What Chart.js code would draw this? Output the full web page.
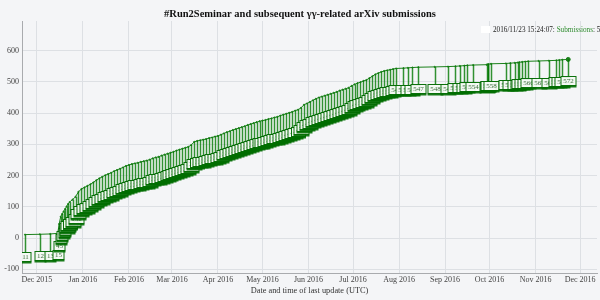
<!DOCTYPE html>
<html>
<head>
<meta charset="utf-8">
<script src="https://cdn.jsdelivr.net/npm/chart.js@4/dist/chart.umd.min.js"></script>
<style>
    html, body { margin: 0; padding: 0; overflow: hidden; background: #f4f5f7; }
    #wrap      { position: relative; width: 600px; height: 300px; }
    #legend    { position: absolute; left: 481px; top: 26px; white-space: nowrap; font: 7.2px "Liberation Serif", serif; color: #222; }
    #legend .swatch { display: inline-block; width: 9px; height: 7px; background: #fff; vertical-align: -1px; margin-right: 3px; }
    #legend .green  { color: #2e8b2e; }
</style>
</head>
<body>
<div id="wrap">
    <canvas id="ChartCanvas"></canvas>
    <div id="legend"><span class="swatch"></span>2016/11/23 15:24:07: <span class="green">Submissions</span>: 572</div>
</div>
<script>
// Date of last update of each tracked submission and the running total at that moment
const submissionDates =
[
    '2015-11-23', '2015-12-03', '2015-12-10', '2015-12-15', '2015-12-16', '2015-12-17', '2015-12-18', '2015-12-19',
    '2015-12-20', '2015-12-21', '2015-12-22', '2015-12-23', '2015-12-25', '2015-12-27', '2015-12-29', '2015-12-31',
    '2016-01-02', '2016-01-04', '2016-01-06', '2016-01-08', '2016-01-10', '2016-01-12', '2016-01-14', '2016-01-16',
    '2016-01-18', '2016-01-20', '2016-01-22', '2016-01-24', '2016-01-26', '2016-01-28', '2016-01-30', '2016-02-01',
    '2016-02-03', '2016-02-05', '2016-02-07', '2016-02-09', '2016-02-11', '2016-02-13', '2016-02-15', '2016-02-17',
    '2016-02-19', '2016-02-21', '2016-02-23', '2016-02-25', '2016-02-27', '2016-02-29', '2016-03-02', '2016-03-04',
    '2016-03-06', '2016-03-08', '2016-03-10', '2016-03-12', '2016-03-14', '2016-03-16', '2016-03-18', '2016-03-20',
    '2016-03-22', '2016-03-24', '2016-03-26', '2016-03-28', '2016-03-30', '2016-04-01', '2016-04-03', '2016-04-05',
    '2016-04-07', '2016-04-09', '2016-04-11', '2016-04-13', '2016-04-15', '2016-04-17', '2016-04-19', '2016-04-21',
    '2016-04-23', '2016-04-25', '2016-04-27', '2016-04-29', '2016-05-01', '2016-05-03', '2016-05-05', '2016-05-07',
    '2016-05-09', '2016-05-11', '2016-05-13', '2016-05-15', '2016-05-17', '2016-05-19', '2016-05-21', '2016-05-23',
    '2016-05-25', '2016-05-27', '2016-05-29', '2016-05-31', '2016-06-02', '2016-06-04', '2016-06-06', '2016-06-08',
    '2016-06-10', '2016-06-12', '2016-06-14', '2016-06-16', '2016-06-18', '2016-06-20', '2016-06-22', '2016-06-24',
    '2016-06-26', '2016-06-28', '2016-06-30', '2016-07-02', '2016-07-04', '2016-07-06', '2016-07-08', '2016-07-10',
    '2016-07-12', '2016-07-14', '2016-07-16', '2016-07-18', '2016-07-20', '2016-07-22', '2016-07-24', '2016-07-26',
    '2016-07-28', '2016-07-30', '2016-08-04', '2016-08-07', '2016-08-10', '2016-08-14', '2016-08-25', '2016-09-03',
    '2016-09-08', '2016-09-11', '2016-09-14', '2016-09-16', '2016-09-20', '2016-09-29', '2016-09-30', '2016-09-30',
    '2016-10-02', '2016-10-12', '2016-10-15', '2016-10-18', '2016-10-20', '2016-10-21', '2016-10-23', '2016-10-25',
    '2016-10-27', '2016-11-03', '2016-11-10', '2016-11-15', '2016-11-17', '2016-11-19', '2016-11-23'
];

const submissionCounts =
[
     11,  12,  13,  15,  45,  68,  77,  85,  93, 101, 109, 115, 123, 132, 148, 157,
    162, 167, 172, 178, 185, 191, 196, 201, 205, 209, 214, 218, 222, 226, 231, 234,
    237, 239, 241, 244, 246, 248, 251, 255, 258, 260, 264, 267, 270, 273, 276, 280,
    283, 286, 289, 292, 298, 308, 311, 313, 315, 317, 320, 322, 325, 327, 331, 335,
    339, 342, 346, 349, 352, 355, 358, 362, 365, 368, 371, 374, 376, 378, 381, 383,
    386, 388, 392, 395, 398, 401, 404, 408, 411, 417, 427, 431, 436, 441, 446, 450,
    453, 456, 459, 462, 465, 468, 472, 475, 478, 481, 487, 492, 496, 499, 503, 506,
    512, 518, 524, 528, 532, 535, 537, 539, 541, 543, 544, 545, 546, 547, 548, 549,
    550, 551, 552, 553, 554, 555, 556, 557, 558, 559, 560, 561, 562, 563, 564, 565,
    566, 567, 568, 569, 570, 571, 572
];

// Axis ticks
const xTickDates  = ['2015-12-01', '2016-01-01', '2016-02-01', '2016-03-01', '2016-04-01', '2016-05-01', '2016-06-01',
                     '2016-07-01', '2016-08-01', '2016-09-01', '2016-10-01', '2016-11-01', '2016-12-01'];
const xTickLabels = ['Dec 2015', 'Jan 2016', 'Feb 2016', 'Mar 2016', 'Apr 2016', 'May 2016', 'Jun 2016',
                     'Jul 2016', 'Aug 2016', 'Sep 2016', 'Oct 2016', 'Nov 2016', 'Dec 2016'];
const yTicks      = [-100, 0, 100, 200, 300, 400, 500, 600];

Initialize();

function Initialize()
{
    const DAY    = 86400000;
    const toDays = s => Date.parse(s) / DAY;   // the x axis is linear, counted in days

    const xTickDays = xTickDates.map(toDays);
    const serif     = '"Liberation Serif", "Times New Roman", serif';
    const last      = submissionCounts.length - 1;

    // Draws the little arrow + numbered box hanging under every point
    const countBoxes =
    {
        id: 'countBoxes',
        afterDatasetsDraw(chart)
        {
            const ctx  = chart.ctx;
            const area = chart.chartArea;
            const meta = chart.getDatasetMeta(0);

            ctx.save();
            ctx.beginPath();
            ctx.rect(area.left, area.top, area.right - area.left, area.bottom - area.top);
            ctx.clip();
            ctx.font         = '7px ' + serif;
            ctx.textAlign    = 'center';
            ctx.textBaseline = 'middle';

            meta.data.forEach((pt, i) =>
            {
                const x     = Math.round(pt.x) + 0.5;
                const y     = pt.y;
                const label = String(submissionCounts[i]);
                const w     = Math.round(ctx.measureText(label).width) + 4;
                const h     = 9;
                const top   = Math.round(y + 17) + 0.5;

                // arrow
                ctx.strokeStyle = 'rgba(0, 120, 0, 0.8)';
                ctx.lineWidth   = 1.5;
                ctx.beginPath();
                ctx.moveTo(x, y);
                ctx.lineTo(x, top);
                ctx.stroke();

                // box
                ctx.fillStyle = 'rgba(244, 250, 244, 0.92)';
                ctx.fillRect(x - w / 2, top, w, h);
                ctx.lineWidth   = 1;
                ctx.strokeStyle = 'rgba(0, 105, 0, 0.95)';
                ctx.strokeRect(x - w / 2, top, w, h);

                // heavier underside of the box
                ctx.fillStyle = 'rgba(0, 110, 0, 0.9)';
                ctx.fillRect(x - w / 2 - 0.5, top + h, w + 1, 2);

                ctx.fillStyle = '#3b6e3b';
                ctx.fillText(label, x, top + h / 2 + 0.5);
            });
            ctx.restore();
        }
    };

    const ctx = document.getElementById('ChartCanvas').getContext('2d');

    const chart = new Chart(ctx,
    {
        type: 'line',
        data:
        {
            datasets:
            [
                {
                    label: 'Submissions',
                    data: submissionDates.map((d, i) => ({ x: toDays(d), y: submissionCounts[i] })),
                    borderColor: '#1a801a',
                    backgroundColor: '#1a801a',
                    borderWidth: 1,
                    pointRadius: c => c.dataIndex === last ? 2 : 0.6,
                    pointHoverRadius: 0,
                    tension: 0
                }
            ]
        },
        options:
        {
            responsive: true,
            maintainAspectRatio: false,
            animation: false,
            layout: { padding: { top: 0, left: 0, right: 0, bottom: 0 } },
            plugins:
            {
                legend: { display: false },
                tooltip: { enabled: false },
                title:
                {
                    display: true,
                    text: '#Run2Seminar and subsequent γγ-related arXiv submissions',
                    color: '#111',
                    font: { family: serif, size: 10.5, weight: 'bold', lineHeight: 1.2 },
                    padding: { top: 8, bottom: 0.4 }
                }
            },
            scales:
            {
                x:
                {
                    type: 'linear',
                    min: toDays('2015-11-21') - 0.05,
                    max: toDays('2016-12-12') + 0.4,
                    afterBuildTicks: scale => { scale.ticks = xTickDays.map(v => ({ value: v })); },
                    afterFit: scale => { scale.height = 27; },
                    ticks:
                    {
                        autoSkip: false,
                        maxRotation: 0,
                        padding: 2,
                        color: '#444',
                        font: { family: serif, size: 8 },
                        callback: v => xTickLabels[xTickDays.indexOf(v)]
                    },
                    grid: { color: '#dde0e4', drawTicks: false },
                    border: { color: '#a9abae' },
                    title:
                    {
                        display: true,
                        text: 'Date and time of last update (UTC)',
                        color: '#333',
                        font: { family: serif, size: 8.3 },
                        padding: { top: 0, bottom: 4 }
                    }
                },
                y:
                {
                    min: -112,
                    max: 695,
                    afterBuildTicks: scale => { scale.ticks = yTicks.map(v => ({ value: v })); },
                    afterFit: scale => { scale.width = 22; },
                    ticks:
                    {
                        padding: 3,
                        color: '#444',
                        font: { family: serif, size: 8 }
                    },
                    grid: { color: '#dde0e4', drawTicks: false },
                    border: { color: '#a9abae' }
                }
            }
        },
        plugins: [countBoxes]
    });
}
</script>
</body>
</html>
